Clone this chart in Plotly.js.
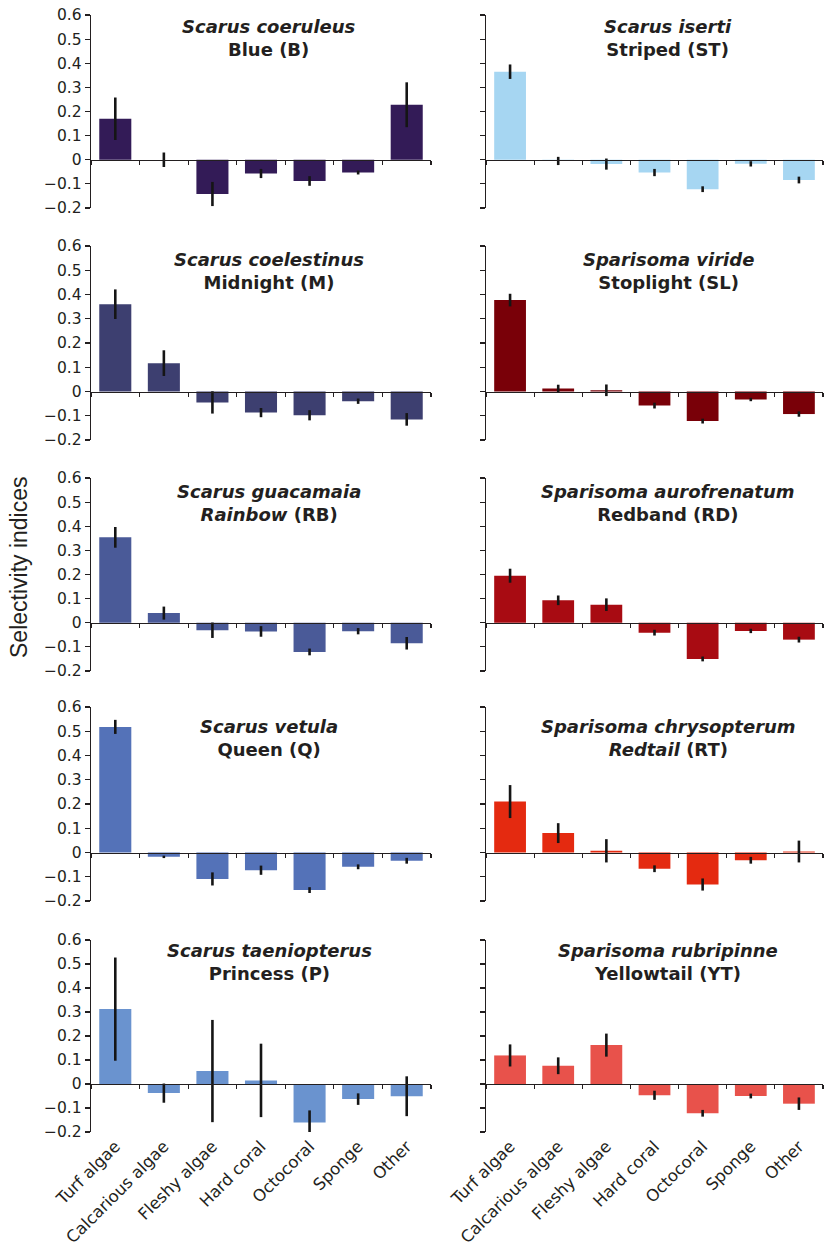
<!DOCTYPE html>
<html>
<head>
<meta charset="utf-8">
<script src="https://cdn.plot.ly/plotly-3.0.1.min.js"></script>
<style>html,body{margin:0;padding:0;background:#fff;}#chart{width:824px;height:1248px;}</style>
</head>
<body>
<div id="chart"></div>
<script>
// ---------- data ----------
const categories = ["Turf algae", "Calcarious algae", "Fleshy algae", "Hard coral", "Octocoral", "Sponge", "Other"];

const speciesNames = ["Scarus coeruleus", "Scarus iserti", "Scarus coelestinus", "Sparisoma viride", "Scarus guacamaia",
  "Sparisoma aurofrenatum", "Scarus vetula", "Sparisoma chrysopterum", "Scarus taeniopterus", "Sparisoma rubripinne"];
const commonNames = ["Blue (B)", "Striped (ST)", "Midnight (M)", "Stoplight (SL)", "<i>Rainbow</i> (RB)",
  "Redband (RD)", "Queen (Q)", "<i>Redtail</i> (RT)", "Princess (P)", "Yellowtail (YT)"];

const blueVals        = [0.170, 0.000, -0.142, -0.057, -0.088, -0.053, 0.228];
const blueErr         = [0.088, 0.030, 0.050, 0.019, 0.020, 0.008, 0.093];
const stripedVals     = [0.365, -0.005, -0.018, -0.053, -0.122, -0.017, -0.084];
const stripedErr      = [0.030, 0.017, 0.023, 0.015, 0.012, 0.011, 0.014];
const midnightVals    = [0.360, 0.117, -0.045, -0.087, -0.098, -0.040, -0.115];
const midnightErr     = [0.061, 0.053, 0.046, 0.019, 0.021, 0.011, 0.026];
const stoplightVals   = [0.377, 0.012, 0.005, -0.058, -0.122, -0.033, -0.093];
const stoplightErr    = [0.026, 0.016, 0.024, 0.012, 0.010, 0.007, 0.011];
const rainbowVals     = [0.354, 0.040, -0.031, -0.036, -0.121, -0.035, -0.085];
const rainbowErr      = [0.043, 0.027, 0.032, 0.022, 0.014, 0.013, 0.026];
const redbandVals     = [0.195, 0.093, 0.075, -0.041, -0.150, -0.034, -0.070];
const redbandErr      = [0.029, 0.020, 0.026, 0.012, 0.010, 0.009, 0.012];
const queenVals       = [0.518, -0.018, -0.109, -0.073, -0.155, -0.059, -0.034];
const queenErr        = [0.029, 0.005, 0.027, 0.019, 0.012, 0.010, 0.012];
const redtailVals     = [0.210, 0.080, 0.007, -0.067, -0.132, -0.032, 0.004];
const redtailErr      = [0.068, 0.041, 0.048, 0.014, 0.025, 0.014, 0.045];
const princessVals    = [0.312, -0.038, 0.054, 0.015, -0.160, -0.063, -0.051];
const princessErr     = [0.215, 0.040, 0.213, 0.153, 0.050, 0.024, 0.083];
const yellowtailVals  = [0.119, 0.076, 0.162, -0.047, -0.122, -0.050, -0.082];
const yellowtailErr   = [0.046, 0.035, 0.048, 0.019, 0.014, 0.010, 0.026];

const panelVals = [blueVals, stripedVals, midnightVals, stoplightVals, rainbowVals,
  redbandVals, queenVals, redtailVals, princessVals, yellowtailVals];
const panelErr = [blueErr, stripedErr, midnightErr, stoplightErr, rainbowErr,
  redbandErr, queenErr, redtailErr, princessErr, yellowtailErr];

const yTickVals = [-0.2, -0.1, 0, 0.1, 0.2, 0.3, 0.4, 0.5, 0.6];
const yTitle = "Selectivity indices";

// ---------- styling / layout ----------
const colors = ["#331b57", "#a6d6f2", "#3d3f70", "#790008", "#4a5a98",
  "#a80b12", "#5472b8", "#e42a10", "#6a93cf", "#e8524b"];
const W = 824, H = 1248;
const colX = [[91, 431], [486, 823]];
const rowY = [[15, 208], [246, 440], [478, 671], [707, 901], [940, 1132]];
const titleMid = [38, 271, 503, 738, 962];
const titleX = [269, 668];
const ink = "#231f20";
const FONT = "DejaVu Sans";

const traces = [];
const layout = {
  width: W, height: H,
  margin: {l: 0, r: 0, t: 0, b: 0},
  paper_bgcolor: "#ffffff", plot_bgcolor: "rgba(0,0,0,0)",
  showlegend: false,
  font: {family: FONT, color: ink, size: 15.5},
  annotations: [],
  bargap: 0.34
};

for (let i = 0; i < 10; i++) {
  const row = Math.floor(i / 2), col = i % 2;
  const n = i + 1;
  const xa = "x" + n, ya = "y" + n;
  traces.push({
    type: "bar",
    x: categories,
    y: panelVals[i],
    xaxis: xa, yaxis: ya,
    marker: {color: colors[i]},
    error_y: {type: "data", array: panelErr[i], visible: true, color: "#151515", thickness: 2.6, width: 0},
    hoverinfo: "x+y"
  });
  const yb = 1 - rowY[row][1] / H, yt = 1 - rowY[row][0] / H;
  const zeroPos = yb + (0 - (-0.2)) / 0.8 * (yt - yb);
  const isBottom = row === 4;
  layout["xaxis" + (n === 1 ? "" : n)] = {
    domain: [colX[col][0] / W, colX[col][1] / W],
    anchor: "free", position: zeroPos,
    type: "category", categoryarray: categories, range: [-0.5, 6.5],
    showline: true, linecolor: ink, linewidth: 1.3,
    ticks: "outside", tickson: "boundaries", ticklen: 4, tickwidth: 1.2, tickcolor: ink,
    showgrid: false, zeroline: false,
    showticklabels: isBottom, tickangle: -45,
    ticklabelstandoff: isBottom ? 45 : 0,
    tickfont: {family: FONT, size: 16.5, color: ink},
    fixedrange: true
  };
  layout["yaxis" + (n === 1 ? "" : n)] = {
    domain: [yb, yt],
    anchor: xa,
    range: [-0.2, 0.6],
    tickvals: yTickVals,
    showline: true, linecolor: ink, linewidth: 1.3,
    ticks: "outside", ticklen: 5, tickwidth: 1.2, tickcolor: ink,
    showgrid: false, zeroline: false,
    showticklabels: col === 0,
    tickfont: {family: FONT, size: 15.5, color: ink},
    fixedrange: true
  };
  layout.annotations.push({
    xref: "paper", yref: "paper",
    x: titleX[col] / W, y: 1 - titleMid[row] / H,
    xanchor: "center", yanchor: "middle",
    showarrow: false, align: "center",
    text: "<b><i>" + speciesNames[i] + "</i></b><br><b>" + commonNames[i] + "</b>",
    font: {family: FONT, size: 18, color: ink}
  });
}

layout.annotations.push({
  xref: "paper", yref: "paper",
  x: 19 / W, y: 1 - 567 / H,
  xanchor: "center", yanchor: "middle",
  showarrow: false, textangle: -90,
  text: yTitle,
  font: {family: "Liberation Sans", size: 23, color: ink}
});

Plotly.newPlot("chart", traces, layout, {displayModeBar: false, staticPlot: true});
</script>
</body>
</html>
